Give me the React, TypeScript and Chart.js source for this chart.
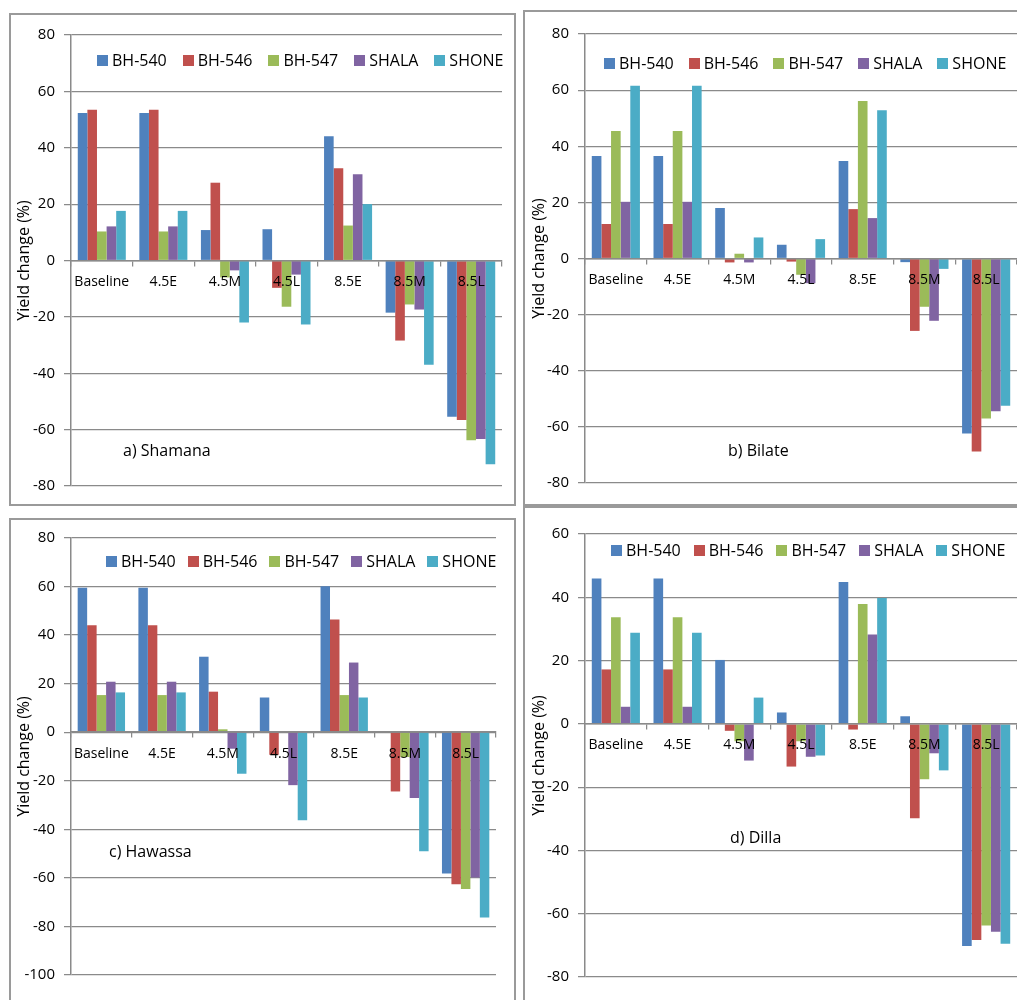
import React, { useEffect, useRef } from "react";
import { Chart, registerables } from "chart.js";

Chart.register(...registerables);

const FONT = "'Open Sans', 'DejaVu Sans', sans-serif";
Chart.defaults.font.family = FONT;
Chart.defaults.color = "#000";

// ---------- data ----------
const categories = ["Baseline", "4.5E", "4.5M", "4.5L", "8.5E", "8.5M", "8.5L"];
const varieties = ["BH-540", "BH-546", "BH-547", "SHALA", "SHONE"];
const yTitle = "Yield change (%)";

// rows follow `varieties`, columns follow `categories`
const shamana = [
  [52.3, 52.3, 10.8, 11.1, 44.1, -18.5, -55.4],
  [53.5, 53.5, 27.6, -9.7, 32.7, -28.4, -56.6],
  [10.3, 10.3, -6.0, -16.4, 12.4, -15.6, -63.8],
  [12.1, 12.1, -3.5, -5.0, 30.6, -17.4, -63.3],
  [17.6, 17.6, -22.0, -22.7, 20.0, -37.0, -72.3],
];
const bilate = [
  [36.5, 36.5, 18.0, 4.9, 34.7, -1.3, -62.4],
  [12.3, 12.3, -1.4, -1.1, 17.6, -25.8, -68.8],
  [45.4, 45.4, 1.7, -5.8, 56.1, -17.2, -57.0],
  [20.2, 20.2, -1.4, -8.8, 14.4, -22.2, -54.4],
  [61.6, 61.6, 7.5, 6.9, 52.8, -3.7, -52.5],
];
const hawassa = [
  [59.5, 59.5, 31.1, 14.3, 60.1, 0, -58.2],
  [44.1, 44.1, 16.7, -9.3, 46.4, -24.4, -62.6],
  [15.3, 15.3, 1.2, 0, 15.3, -10.2, -64.6],
  [20.8, 20.8, -6.8, -21.8, 28.7, -27.1, -59.8],
  [16.4, 16.4, -17.1, -36.3, 14.3, -49.0, -76.3],
];
const dilla = [
  [45.9, 45.9, 20.2, 3.6, 44.8, 2.4, -70.2],
  [17.2, 17.2, -2.2, -13.5, -1.8, -29.8, -68.3],
  [33.7, 33.7, -5.5, -5.5, 37.9, -17.5, -63.7],
  [5.4, 5.4, -11.6, -10.4, 28.2, -9.3, -65.7],
  [28.8, 28.8, 8.3, -10.0, 39.8, -14.7, -69.5],
];

// ---------- styles ----------
const seriesColors = ["#4F81BD", "#C0504D", "#9BBB59", "#8064A2", "#4BACC6"];
const gridColor = "#8a8a8a";
const frameColor = "#9a9a9a";

type Panel = {
  key: string;
  label: string;
  values: number[][];
  yMin: number;
  yMax: number;
  frame: [number, number, number, number]; // left, top, right, bottom
  area: [number, number, number, number]; // chart area left, top, right, bottom
  titleX: number;
  legend: [number, number]; // first swatch left, center y
  legendGap: number;
  labelPos: [number, number]; // left, center y
};

const panels: Panel[] = [
  {
    key: "a",
    label: "a) Shamana",
    values: shamana,
    yMin: -80,
    yMax: 80,
    frame: [9, 13, 516, 506],
    area: [71, 35, 502, 486],
    titleX: 25,
    legend: [97, 60],
    legendGap: 16,
    labelPos: [123, 450],
  },
  {
    key: "b",
    label: "b) Bilate",
    values: bilate,
    yMin: -80,
    yMax: 80,
    frame: [523, 10, 1030, 506],
    area: [585, 34, 1017, 483],
    titleX: 540,
    legend: [604, 63],
    legendGap: 15,
    labelPos: [728, 450],
  },
  {
    key: "c",
    label: "c) Hawassa",
    values: hawassa,
    yMin: -100,
    yMax: 80,
    frame: [9, 518, 516, 1010],
    area: [71, 538, 496, 975],
    titleX: 25,
    legend: [106, 561],
    legendGap: 12,
    labelPos: [109, 851],
  },
  {
    key: "d",
    label: "d) Dilla",
    values: dilla,
    yMin: -80,
    yMax: 60,
    frame: [523, 506, 1030, 1010],
    area: [585, 534, 1017, 977],
    titleX: 540,
    legend: [611, 550],
    legendGap: 13,
    labelPos: [730, 837],
  },
];

function BarPanel({ p }: { p: Panel }) {
  const ref = useRef<HTMLCanvasElement>(null);
  const [aL, aT, aR, aB] = p.area;
  const padTop = 20;
  const padBottom = 20;
  const padRight = aR >= 1017 ? 0 : 2;
  const titlePad = 6;
  const canvasLeft = Math.round(p.titleX - 9.6 - titlePad);
  const canvasTop = aT - padTop;
  const width = aR - canvasLeft + padRight;
  const height = aB - aT + padTop + padBottom;

  useEffect(() => {
    const chart = new Chart(ref.current as HTMLCanvasElement, {
      type: "bar",
      data: {
        labels: categories,
        datasets: varieties.map((v, i) => ({
          label: v,
          data: p.values[i],
          backgroundColor: seriesColors[i],
          borderWidth: 0,
          categoryPercentage: 0.78,
          barPercentage: 1,
        })),
      },
      options: {
        responsive: false,
        maintainAspectRatio: false,
        animation: false,
        layout: { padding: { left: 0, top: padTop, right: padRight, bottom: padBottom } },
        plugins: { legend: { display: false }, tooltip: { enabled: false } },
        scales: {
          x: {
            position: { y: 0 } as any,
            offset: true,
            grid: {
              display: true,
              drawOnChartArea: false,
              offset: true,
              tickLength: 5,
              color: gridColor,
              lineWidth: 1.25,
              z: 1,
            },
            border: { display: true, color: gridColor, width: 1.5, z: 1 },
            ticks: {
              z: 1,
              padding: 8,
              font: { size: 14, family: FONT },
              color: "#000",
              maxRotation: 0,
              autoSkip: false,
            },
          },
          y: {
            min: p.yMin,
            max: p.yMax,
            afterFit: (s: any) => {
              s.width = aL - canvasLeft;
            },
            ticks: { stepSize: 20, padding: 9, font: { size: 15, family: FONT }, color: "#000" },
            grid: { color: gridColor, lineWidth: 1.25, tickLength: 7 },
            border: { color: gridColor, width: 1.5 },
            title: {
              display: true,
              text: yTitle,
              font: { size: 16, family: FONT },
              color: "#000",
              padding: { top: titlePad, bottom: 4 },
            },
          },
        },
      } as any,
    });
    return () => chart.destroy();
  }, []);

  const [fL, fT, fR, fB] = p.frame;
  return (
    <>
      <div
        style={{
          position: "absolute",
          left: fL,
          top: fT,
          width: fR - fL,
          height: fB - fT,
          border: `2px solid ${frameColor}`,
          boxSizing: "border-box",
        }}
      />
      <canvas
        ref={ref}
        width={width}
        height={height}
        style={{ position: "absolute", left: canvasLeft, top: canvasTop, width, height }}
      />
      <div
        style={{
          position: "absolute",
          left: p.legend[0],
          top: p.legend[1] - 11,
          height: 22,
          display: "flex",
          alignItems: "center",
          gap: p.legendGap,
          fontFamily: FONT,
          fontSize: 16,
          color: "#000",
          whiteSpace: "nowrap",
        }}
      >
        {varieties.map((v, i) => (
          <div key={v} style={{ display: "flex", alignItems: "center" }}>
            <span
              style={{
                display: "inline-block",
                width: 11,
                height: 11,
                background: seriesColors[i],
                marginRight: 4,
              }}
            />
            <span>{v}</span>
          </div>
        ))}
      </div>
      <div
        style={{
          position: "absolute",
          left: p.labelPos[0],
          top: p.labelPos[1] - 11,
          height: 22,
          lineHeight: "22px",
          fontFamily: FONT,
          fontSize: 16,
          color: "#000",
          whiteSpace: "nowrap",
        }}
      >
        {p.label}
      </div>
    </>
  );
}

export default function App() {
  return (
    <div
      style={{
        position: "absolute",
        left: 0,
        top: 0,
        width: 1017,
        height: 1000,
        overflow: "hidden",
        background: "#fff",
      }}
    >
      {panels.map((p) => (
        <BarPanel key={p.key} p={p} />
      ))}
    </div>
  );
}
